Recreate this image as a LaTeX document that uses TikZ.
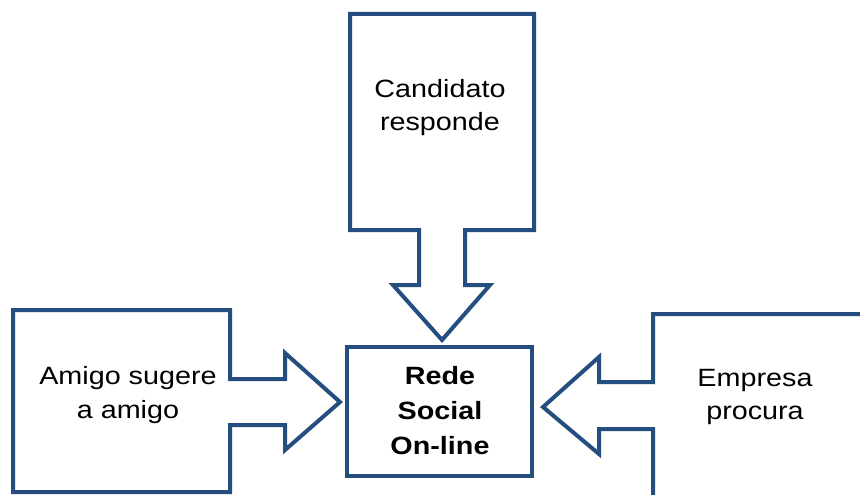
\documentclass[tikz,border=0pt]{standalone}
\usepackage{fontspec}
\setmainfont[FakeStretch=1.15]{Liberation Sans}
\usetikzlibrary{positioning}

\definecolor{calloutblue}{RGB}{36,78,128}

\begin{document}
\begin{tikzpicture}[x=1pt, y=-1pt]
  % definition of the basic styles.
  \tikzstyle{callout}=[draw=calloutblue, fill=white, line width=4pt, line join=miter]
  \tikzstyle{label}=[align=center, font=\fontsize{25}{33}\selectfont]
  % The frame of the picture
  \useasboundingbox (0,0) rectangle (860,495);
  \clip (0,0) rectangle (860,495);

  % The central box
  \draw[callout] (347,347) rectangle (532,476);
  \node[label, font=\fontsize{25}{35}\selectfont\bfseries] (rede) at (440,411)
    {Rede\\Social\\On-line};

  % Top callout, pointing down
  \draw[callout] (350,14) -- (534,14) -- (534,230) -- (465,230) -- (465,285)
    -- (490,285) -- (442,340) -- (393,285) -- (419,285) -- (419,230)
    -- (350,230) -- cycle;
  \node[label] (candidato) at (440,108) {Candidato\\responde};

  % Left callout, pointing right
  \draw[callout] (13,310) -- (230,310) -- (230,379) -- (285,379) -- (285,353)
    -- (340,402) -- (285,450) -- (285,425) -- (230,425) -- (230,492)
    -- (13,492) -- cycle;
  \node[label, font=\fontsize{25}{34}\selectfont] (amigo) at (128,395)
    {Amigo sugere\\a amigo};

  % Right callout, pointing left (cut off by the frame)
  \draw[callout] (875,314) -- (653,314) -- (653,382) -- (599,382) -- (599,357)
    -- (543,407) -- (599,454) -- (599,429) -- (653,429) -- (653,510)
    -- (875,510) -- cycle;
  \node[label] (empresa) at (755,397) {Empresa\\procura};
\end{tikzpicture}
\end{document}
